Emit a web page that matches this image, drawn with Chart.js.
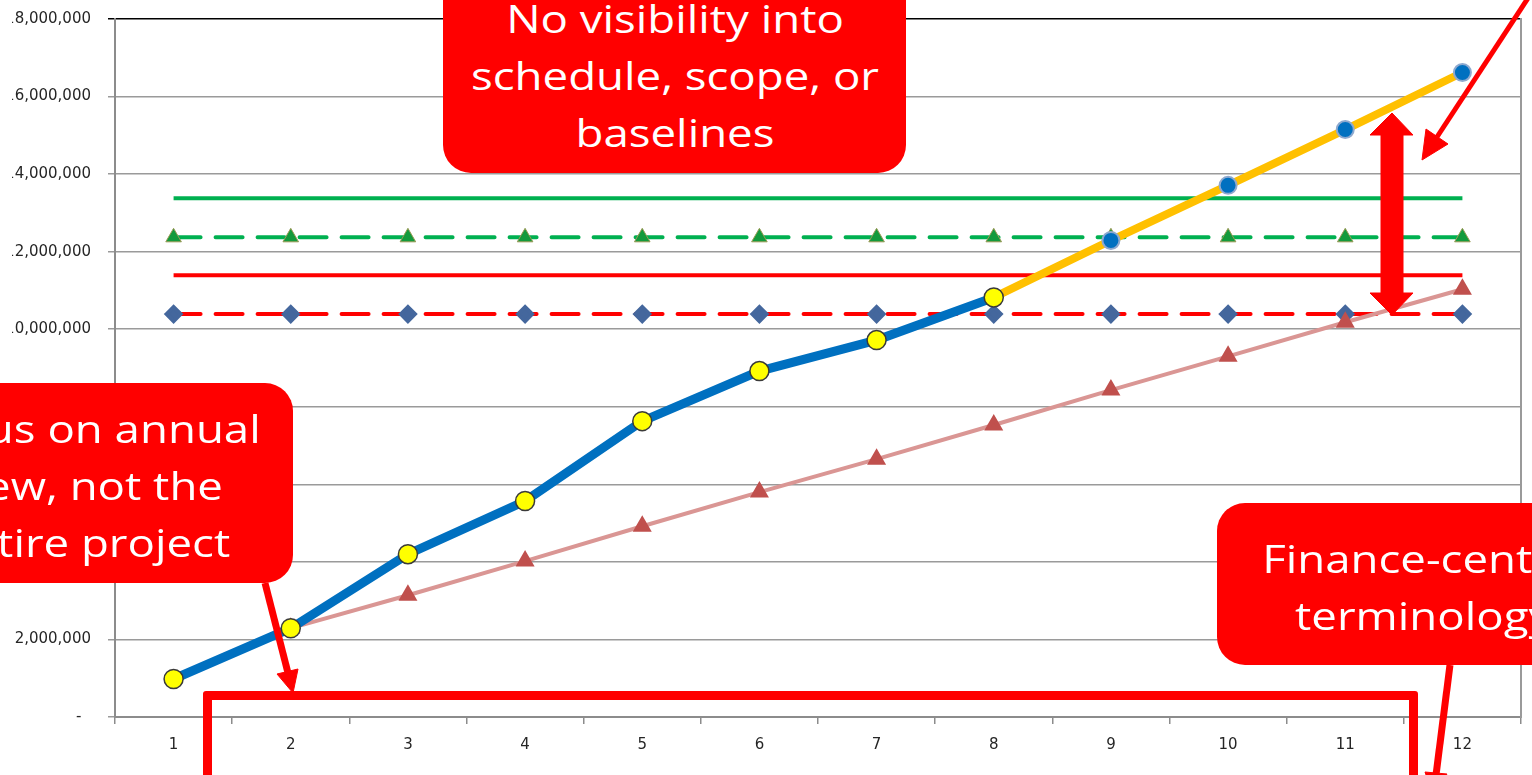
<!DOCTYPE html>
<html>
<head>
<meta charset="utf-8">
<script src="https://cdn.jsdelivr.net/npm/chart.js@4.4.1/dist/chart.umd.min.js"></script>
<style>
  html, body { margin: 0; padding: 0; background: #fff; overflow: hidden; }
  body { width: 1532px; height: 775px; position: relative; }
  #clip { position: absolute; left: 12px; top: 0; width: 1520px; height: 775px; overflow: hidden; }
  #wrap { position: absolute; left: -12px; top: 0; width: 1532px; height: 775px; }
  .callout {
    position: absolute; background: #ff0000; color: #fff; border-radius: 28px;
    font-family: "Open Sans", sans-serif; font-size: 38px; line-height: 57px;
    text-align: center; box-sizing: border-box; white-space: nowrap;
  }
  .callout span { display: inline-block; transform: scaleX(1.2); transform-origin: 50% 0; }
  #frame { position: absolute; left: 203px; top: 691px; width: 1215px; height: 130px;
    border: 9px solid #ff0000; box-sizing: border-box; border-radius: 3px; }
  svg { position: absolute; left: 0; top: 0; }
</style>
</head>
<body>
<div id="clip"><div id="wrap"><canvas id="chart" width="1532" height="775"></canvas></div></div>

<svg width="1532" height="775">
  <g fill="#ff0000" stroke="#ff0000">
    <line x1="265" y1="583" x2="288" y2="673" stroke-width="7"/>
    <polygon points="293,693 298,669 277,674" stroke-width="1"/>
    <line x1="1450" y1="665" x2="1436" y2="775" stroke-width="7"/>
    <polygon points="1433,795 1447,774 1425,772" stroke-width="1"/>
    <line x1="1532" y1="-8" x2="1437" y2="137" stroke-width="5"/>
    <polygon points="1422,160 1448,144 1426,129" stroke-width="1"/>
    <polygon points="1392,113 1413,135 1403,135 1403,293 1413,293 1392,315 1370,293 1381,293 1381,135 1370,135" stroke-width="1"/>
  </g>
</svg>

<div id="frame"></div>
<div class="callout" style="left:443px; top:-30px; width:463px; height:203px; padding-top:20px;"><span>No visibility into<br>schedule, scope, or<br>baselines</span></div>
<div class="callout" style="left:-120px; top:383px; width:413px; height:200px; padding-top:17px;"><span>Focus on annual<br>view, not the<br>entire project</span></div>
<div class="callout" style="left:1217px; top:503px; width:412px; height:162px; padding-top:27px;"><span>Finance-centric<br>terminology</span></div>

<script>
const periods = ["1", "2", "3", "4", "5", "6", "7", "8", "9", "10", "11", "12"];

const actualCost = [980000, 2290000, 4200000, 5570000, 7630000, 8920000, 9720000, 10820000, null, null, null, null];
const forecastCost = [null, null, null, null, null, null, null, 10820000, 12290000, 13710000, 15150000, 16620000];
const plannedCost = [null, 2290000, 3140000, 4020000, 4920000, 5800000, 6650000, 7530000, 8430000, 9300000, 10180000, 11030000];

const greenLimit = [13380000, 13380000, 13380000, 13380000, 13380000, 13380000, 13380000, 13380000, 13380000, 13380000, 13380000, 13380000];
const greenBudget = [12370000, 12370000, 12370000, 12370000, 12370000, 12370000, 12370000, 12370000, 12370000, 12370000, 12370000, 12370000];
const redLimit = [11390000, 11390000, 11390000, 11390000, 11390000, 11390000, 11390000, 11390000, 11390000, 11390000, 11390000, 11390000];
const redBudget = [10390000, 10390000, 10390000, 10390000, 10390000, 10390000, 10390000, 10390000, 10390000, 10390000, 10390000, 10390000];

const yMin = 0, yMax = 18000000, yStep = 2000000;

const tickFont = { family: "DejaVu Sans", size: 15 };

new Chart(document.getElementById("chart"), {
  type: "line",
  data: {
    labels: periods,
    datasets: [
      { data: actualCost, borderColor: "#0070c0", borderWidth: 9, pointRadius: 9.5, pointBackgroundColor: "#ffff00", pointBorderColor: "#3a3a3a", pointBorderWidth: 1.5, order: 1 },
      { data: forecastCost, borderColor: "#ffc000", borderWidth: 8, pointRadius: 8.5, pointBackgroundColor: "#0070c0", pointBorderColor: "#8ea9cf", pointBorderWidth: 2, order: 2 },
      { data: plannedCost, borderColor: "#da9694", borderWidth: 4, pointStyle: "triangle", pointRadius: 7, pointBackgroundColor: "#c0504d", pointBorderColor: "#c0504d", order: 3 },
      { data: redBudget, borderColor: "#ff0000", borderWidth: 4, borderDash: [27, 15], borderCapStyle: "round", pointStyle: "rectRot", pointRadius: 7, pointBackgroundColor: "#44679d", pointBorderColor: "#44679d", order: 4 },
      { data: greenBudget, borderColor: "#00b050", borderWidth: 4, borderDash: [27, 15], borderCapStyle: "round", pointStyle: "triangle", pointRadius: 9, pointBackgroundColor: "#139a3c", pointBorderColor: "#9a9a55", pointBorderWidth: 1, order: 5 },
      { data: redLimit, borderColor: "#ff0000", borderWidth: 4, pointRadius: 0, order: 6 },
      { data: greenLimit, borderColor: "#00b050", borderWidth: 4, pointRadius: 0, order: 7 }
    ]
  },
  options: {
    responsive: false,
    animation: false,
    spanGaps: false,
    layout: { padding: { top: 19, right: 10, left: 0, bottom: 0 } },
    plugins: { legend: { display: false }, tooltip: { enabled: false } },
    scales: {
      x: {
        offset: true,
        grid: { offset: true, drawOnChartArea: false, drawTicks: true, tickLength: 7, color: "#8c8c8c", lineWidth: 1.5 },
        border: { display: true, color: "#8c8c8c", width: 2 },
        ticks: { color: "#262626", font: tickFont, padding: 12, maxRotation: 0 },
        afterFit: (s) => { s.height = 58; }
      },
      y: {
        min: yMin, max: yMax,
        ticks: {
          stepSize: yStep, color: "#262626", font: tickFont, padding: 17,
          callback: (v) => v === 0 ? "-  " : v.toLocaleString("en-US")
        },
        grid: {
          tickLength: 7, lineWidth: 1.5,
          color: (ctx) => ctx.tick && ctx.tick.value === yMax ? "#000000" : "#9a9a9a"
        },
        border: { display: true, color: "#8c8c8c", width: 2 },
        afterFit: (s) => { s.width = 115; s.paddingTop = 0; s.paddingBottom = 0; }
      },
      y2: {
        position: "right", min: yMin, max: yMax,
        ticks: { display: false },
        grid: { drawOnChartArea: false, drawTicks: false },
        border: { display: true, color: "#9a9a9a", width: 2 },
        afterFit: (s) => { s.width = 0; s.paddingTop = 0; s.paddingBottom = 0; }
      }
    }
  }
});
</script>
</body>
</html>
